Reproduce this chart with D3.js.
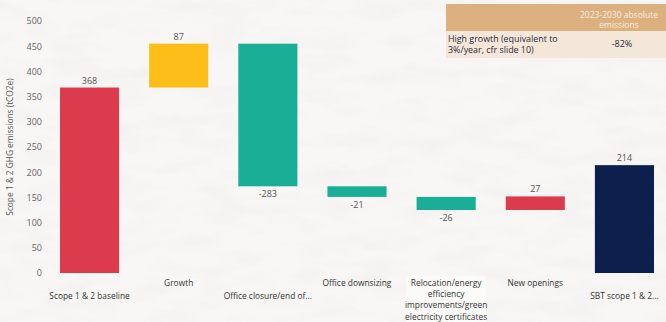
<!DOCTYPE html>
<html>
<head>
<meta charset="utf-8">
<script src="https://cdn.jsdelivr.net/npm/d3@7"></script>
<style>
  html, body { margin: 0; padding: 0; background: #f7f6f4; }
  svg { display: block; }
  text { font-family: "Open Sans", "DejaVu Sans", sans-serif; }
</style>
</head>
<body>
<svg id="chart" width="666" height="322"></svg>
<script>
// Waterfall steps for scope 1 & 2 emissions
const categories = [
  "Scope 1 & 2 baseline",
  "Growth",
  "Office closure/end of...",
  "Office downsizing",
  "Relocation/energy efficiency improvements/green electricity certificates",
  "New openings",
  "SBT scope 1 & 2..."
];
const changes = [368, 87, -283, -21, -26, 27, 214];
const kinds = ["total", "up", "down", "down", "down", "up", "total"];
const barColors = ["#dc3b4d", "#fdbe1a", "#1aae96", "#1aae96", "#1aae96", "#dc3b4d", "#0c1f4d"];
const yTicks = [0, 50, 100, 150, 200, 250, 300, 350, 400, 450, 500];
const axisTitle = "Scope 1 & 2 GHG emissions (tCO2e)";

// Label lines and stagger row for each category axis label
const labelLines = [
  ["Scope 1 & 2 baseline"],
  ["Growth"],
  ["Office closure/end of..."],
  ["Office downsizing"],
  ["Relocation/energy", "efficiency", "improvements/green", "electricity certificates"],
  ["New openings"],
  ["SBT scope 1 & 2..."]
];
const labelRow = [1, 0, 1, 0, 0, 0, 1];

// Table in the top-right corner
const tableHeader = ["2023-2030 absolute", "emissions"];
const tableRowLabel = ["High growth (equivalent to", "3%/year, cfr slide 10)"];
const tableRowValue = "-82%";

const svg = d3.select("#chart");

// Paper texture background
const defs = svg.append("defs");
const f = defs.append("filter").attr("id", "paper")
  .attr("x", 0).attr("y", 0).attr("width", "100%").attr("height", "100%");
f.append("feTurbulence").attr("type", "fractalNoise")
  .attr("baseFrequency", "0.02 0.06").attr("numOctaves", 4).attr("seed", 7).attr("result", "n");
f.append("feColorMatrix").attr("in", "n").attr("type", "matrix")
  .attr("values", "0 0 0 0 0.6  0 0 0 0 0.59  0 0 0 0 0.57  0 0 0 -1.4 0.85");
svg.append("rect").attr("width", 666).attr("height", 322).attr("fill", "#f8f7f5");
svg.append("rect").attr("width", 666).attr("height", 322).attr("filter", "url(#paper)").attr("opacity", 0.16);

const x = d3.scaleBand().domain(categories).range([60, 654]).paddingInner(0.337).paddingOuter(0);
const y = d3.scaleLinear().domain([0, 500]).range([273, 21]);

// Compute waterfall segments
let running = 0;
const bars = changes.map((v, i) => {
  let lo, hi;
  if (kinds[i] === "total") { lo = 0; hi = v; running = v; }
  else { const start = running; running = start + v; lo = Math.min(start, running); hi = Math.max(start, running); }
  return { cat: categories[i], v, lo, hi, kind: kinds[i], color: barColors[i] };
});

// Y axis
const yAxis = d3.axisLeft(y).tickValues(yTicks).tickSize(0).tickPadding(0);
const gy = svg.append("g").attr("transform", "translate(42,0)").call(yAxis);
gy.select(".domain").remove();
gy.selectAll("text").attr("fill", "#666").attr("font-size", 9);

svg.append("text")
  .attr("transform", `translate(11,${y(250)}) rotate(-90)`)
  .attr("text-anchor", "middle").attr("dominant-baseline", "middle")
  .attr("font-size", 8.3).attr("fill", "#555").text(axisTitle);

// Bars
svg.append("g").selectAll("rect").data(bars).join("rect")
  .attr("x", d => x(d.cat)).attr("width", x.bandwidth())
  .attr("y", d => y(d.hi)).attr("height", d => y(d.lo) - y(d.hi))
  .attr("fill", d => d.color);

// Value labels: above for increases/totals, below for decreases
svg.append("g").selectAll("text").data(bars).join("text")
  .attr("x", d => x(d.cat) + x.bandwidth() / 2)
  .attr("y", d => d.v < 0 ? y(d.lo) + 11 : y(d.hi) - 4)
  .attr("text-anchor", "middle").attr("font-size", 9).attr("fill", "#555")
  .text(d => String(d.v));

// Light highlight behind the wrapped category label
const wrapIdx = 4;
svg.append("rect")
  .attr("x", x(categories[wrapIdx]) - 10).attr("y", 276)
  .attr("width", x.bandwidth() + 20).attr("height", 46)
  .attr("fill", "#fbfbfa").attr("opacity", 0.8);

// Category labels, staggered over two rows
const gx = svg.append("g");
categories.forEach((c, i) => {
  const cx = x(c) + x.bandwidth() / 2;
  const y0 = labelRow[i] ? 299 : 285.5;
  const t = gx.append("text").attr("text-anchor", "middle")
    .attr("font-size", 8.4).attr("fill", "#333");
  labelLines[i].forEach((ln, k) => {
    t.append("tspan").attr("x", cx).attr("y", y0 + k * 11.4).text(ln);
  });
});

// Summary table
const tx = 446, tw = 220, col2 = 619;
const tg = svg.append("g").attr("font-family", "Lato, 'Open Sans', sans-serif");
tg.append("rect").attr("x", tx).attr("y", 4).attr("width", tw).attr("height", 27).attr("fill", "#dcb17f");
tg.append("rect").attr("x", tx).attr("y", 31).attr("width", tw).attr("height", 27).attr("fill", "#f4e7da");
tableHeader.forEach((t, k) => {
  tg.append("text").attr("x", col2).attr("y", 17.5 + k * 10.3).attr("text-anchor", "middle")
    .attr("font-size", 8.5).attr("fill", "#f8ece0").text(t);
});
tableRowLabel.forEach((t, k) => {
  tg.append("text").attr("x", tx + 2).attr("y", 41.5 + k * 11.6)
    .attr("font-size", 8.9).attr("fill", "#2b2a3a").text(t);
});
tg.append("text").attr("x", col2 + 3).attr("y", 47).attr("text-anchor", "middle")
  .attr("font-size", 9).attr("fill", "#2b2a3a").text(tableRowValue);
</script>
</body>
</html>
